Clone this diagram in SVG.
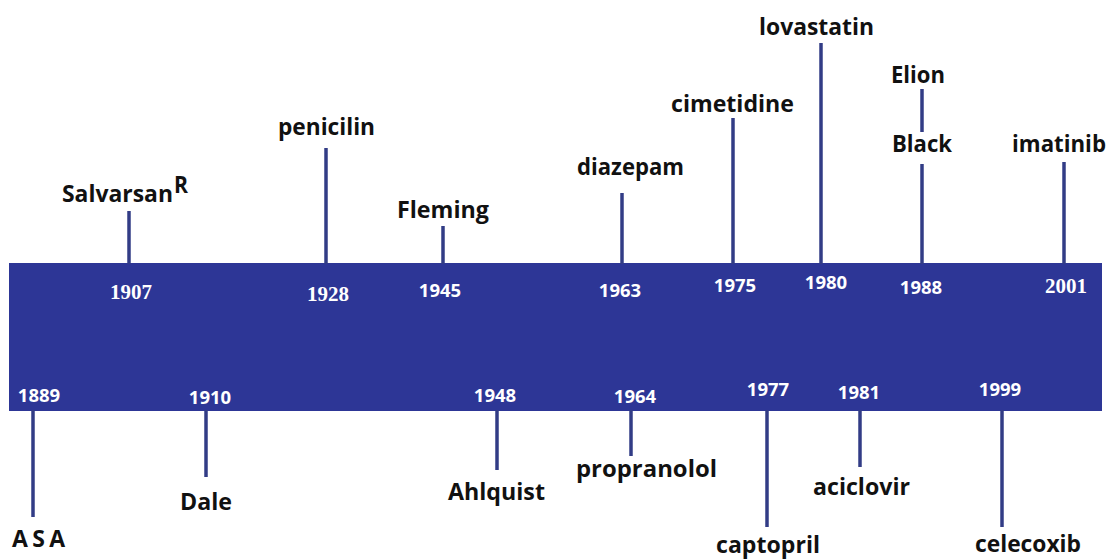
<svg xmlns="http://www.w3.org/2000/svg" width="1108" height="559" viewBox="0 0 1108 559">
<style>
.lbl{font-family:"Open Sans","Noto Sans","Liberation Sans",sans-serif;font-weight:bold;font-size:23px;fill:#111111}
.yr{font-family:"Open Sans","Noto Sans","Liberation Sans",sans-serif;font-weight:bold;font-size:18.5px;fill:#ffffff;text-anchor:middle}
.yrs{font-family:"Liberation Serif","DejaVu Serif",serif;font-weight:bold;font-size:21px;fill:#ffffff;text-anchor:middle}
.stem{stroke:#323c86;stroke-width:3.5;fill:none}
</style>
<rect width="1108" height="559" fill="#ffffff"/>
<g id="band">
<rect x="9" y="263" width="1093" height="148" fill="#2d3696"/>
</g>
<g id="connectors">
<line class="stem" x1="129" y1="211" x2="129" y2="264"/>
<line class="stem" x1="326" y1="148" x2="326" y2="264"/>
<line class="stem" x1="443" y1="226" x2="443" y2="264"/>
<line class="stem" x1="622" y1="193" x2="622" y2="264"/>
<line class="stem" x1="733" y1="118" x2="733" y2="264"/>
<line class="stem" x1="821" y1="43" x2="821" y2="264"/>
<line class="stem" x1="922" y1="89" x2="922" y2="132"/>
<line class="stem" x1="922" y1="164" x2="922" y2="264"/>
<line class="stem" x1="1064" y1="162" x2="1064" y2="264"/>
<line class="stem" x1="33" y1="410" x2="33" y2="517"/>
<line class="stem" x1="206" y1="410" x2="206" y2="477"/>
<line class="stem" x1="497" y1="410" x2="497" y2="470"/>
<line class="stem" x1="631" y1="410" x2="631" y2="456"/>
<line class="stem" x1="767" y1="410" x2="767" y2="527"/>
<line class="stem" x1="860" y1="410" x2="860" y2="467"/>
<line class="stem" x1="1002" y1="410" x2="1002" y2="527"/>
</g>
<g id="n1907">
<text class="lbl" x="62" y="202" textLength="111" lengthAdjust="spacingAndGlyphs">Salvarsan</text>
<text class="lbl" x="174" y="193" font-size="18" textLength="14" lengthAdjust="spacingAndGlyphs">R</text>
<text class="yrs" x="131" y="299">1907</text>
</g>
<g id="n1928">
<text class="lbl" x="278" y="135" textLength="97" lengthAdjust="spacingAndGlyphs">penicilin</text>
<text class="yrs" x="328" y="301">1928</text>
</g>
<g id="n1945">
<text class="lbl" x="397" y="218" textLength="92" lengthAdjust="spacingAndGlyphs">Fleming</text>
<text class="yr" x="440" y="297">1945</text>
</g>
<g id="n1963">
<text class="lbl" x="577" y="175" font-size="21" textLength="107" lengthAdjust="spacingAndGlyphs">diazepam</text>
<text class="yr" x="620" y="297">1963</text>
</g>
<g id="n1975">
<text class="lbl" x="671" y="112" textLength="123" lengthAdjust="spacingAndGlyphs">cimetidine</text>
<text class="yr" x="735" y="292">1975</text>
</g>
<g id="n1980">
<text class="lbl" x="759" y="35" textLength="115" lengthAdjust="spacingAndGlyphs">lovastatin</text>
<text class="yr" x="826" y="289">1980</text>
</g>
<g id="n1988">
<text class="lbl" x="891" y="83" font-size="20" textLength="54" lengthAdjust="spacingAndGlyphs">Elion</text>
<text class="lbl" x="892" y="152" textLength="60" lengthAdjust="spacingAndGlyphs">Black</text>
<text class="yr" x="921" y="294">1988</text>
</g>
<g id="n2001">
<text class="lbl" x="1012" y="152" textLength="94" lengthAdjust="spacingAndGlyphs">imatinib</text>
<text class="yrs" x="1066" y="293">2001</text>
</g>
<g id="n1889">
<text class="yr" x="39" y="402">1889</text>
<text class="lbl" x="12" y="547" textLength="53" lengthAdjust="spacing">ASA</text>
</g>
<g id="n1910">
<text class="yr" x="210" y="404">1910</text>
<text class="lbl" x="180" y="510" textLength="52" lengthAdjust="spacingAndGlyphs">Dale</text>
</g>
<g id="n1948">
<text class="yr" x="495" y="402">1948</text>
<text class="lbl" x="448" y="500" textLength="97" lengthAdjust="spacingAndGlyphs">Ahlquist</text>
</g>
<g id="n1964">
<text class="yr" x="635" y="403">1964</text>
<text class="lbl" x="576" y="477" textLength="141" lengthAdjust="spacingAndGlyphs">propranolol</text>
</g>
<g id="n1977">
<text class="yr" x="768" y="396">1977</text>
<text class="lbl" x="716" y="553" textLength="104" lengthAdjust="spacingAndGlyphs">captopril</text>
</g>
<g id="n1981">
<text class="yr" x="859" y="399">1981</text>
<text class="lbl" x="813" y="495" textLength="97" lengthAdjust="spacingAndGlyphs">aciclovir</text>
</g>
<g id="n1999">
<text class="yr" x="1000" y="396">1999</text>
<text class="lbl" x="975" y="552" textLength="106" lengthAdjust="spacingAndGlyphs">celecoxib</text>
</g>
</svg>
